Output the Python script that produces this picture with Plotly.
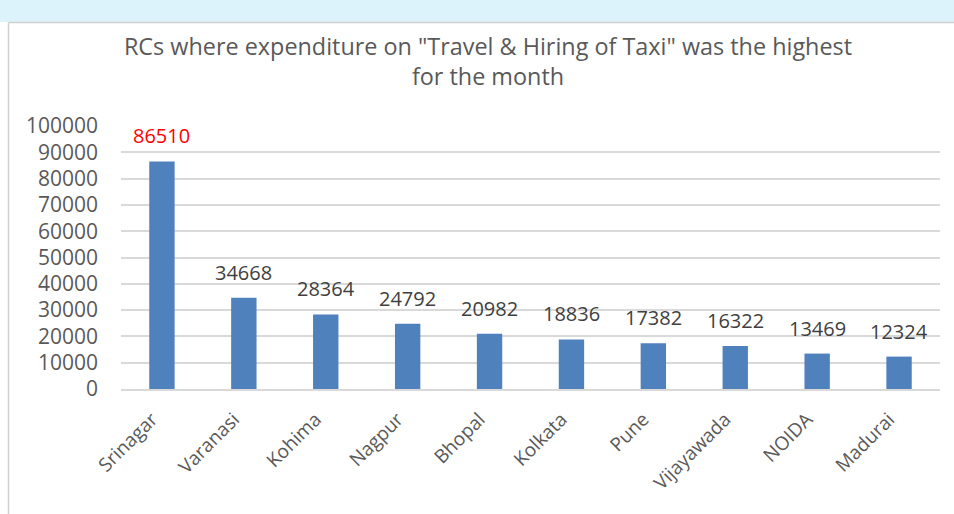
import plotly.graph_objects as go

categories = ["Srinagar", "Varanasi", "Kohima", "Nagpur", "Bhopal", "Kolkata",
              "Pune", "Vijayawada", "NOIDA", "Madurai"]
values = [86510, 34668, 28364, 24792, 20982, 18836, 17382, 16322, 13469, 12324]
label_colors = ["#ff0000"] + ["#404040"] * 9
y_ticks = [0, 10000, 20000, 30000, 40000, 50000, 60000, 70000, 80000, 90000, 100000]

W, H = 954, 514
L, R, T, B = 121, 14, 126, 125
pw, ph = W - L - R, H - T - B

def px(x):
    return (x - L) / pw

def py(y):
    return (H - B - y) / ph

fig = go.Figure()
fig.add_trace(go.Bar(
    x=categories, y=values,
    marker=dict(color="#4f81bd", line=dict(width=0)),
    width=0.31,
    hoverinfo="x+y",
))

for c, v, col in zip(categories, values, label_colors):
    fig.add_annotation(
        x=c, y=v, text=str(v), showarrow=False, yanchor="bottom", yshift=10,
        font=dict(family="Open Sans", size=20, color=col),
    )

shapes = [
    dict(type="rect", xref="paper", yref="paper", x0=px(0), x1=px(W), y0=py(22), y1=py(0),
         fillcolor="#dcf3fb", line=dict(width=0), layer="below"),
    dict(type="line", xref="paper", yref="paper", x0=px(8.5), x1=px(W), y0=py(22.5), y1=py(22.5),
         line=dict(color="#d0d0d0", width=1.5)),
    dict(type="line", xref="paper", yref="paper", x0=px(8.5), x1=px(8.5), y0=py(22.5), y1=py(H),
         line=dict(color="#d0d0d0", width=1.5)),
]

fig.update_layout(
    width=W, height=H,
    margin=dict(l=L, r=R, t=T, b=B),
    paper_bgcolor="white", plot_bgcolor="white",
    shapes=shapes,
    showlegend=False,
    title=dict(
        text="RCs where expenditure on \"Travel & Hiring of Taxi\" was the highest<br>for the month",
        x=488 / W, xanchor="center", y=1 - 55 / H, yanchor="top",
        font=dict(family="Open Sans", size=23.4, color="#595959"),
    ),
    xaxis=dict(
        tickangle=-45, showgrid=False, showline=True, linecolor="#d9d9d9", linewidth=1.5,
        tickfont=dict(family="Open Sans", size=19, color="#595959"), ticks="",
        ticklabelstandoff=10, ticklabelshift=-10,
    ),
    yaxis=dict(
        range=[0, 100000], tickvals=y_ticks, ticktext=[str(v) for v in y_ticks],
        showgrid=True, gridcolor="#d9d9d9", gridwidth=1.5, zeroline=False,
        tickfont=dict(family="Open Sans", size=21, color="#595959"), ticks="",
        showline=False, ticklabelstandoff=22,
    ),
    bargap=0.69,
)

fig.write_html("out.html", config={"displayModeBar": False},
               post_script="document.body.style.margin='0';document.body.style.padding='0';")
